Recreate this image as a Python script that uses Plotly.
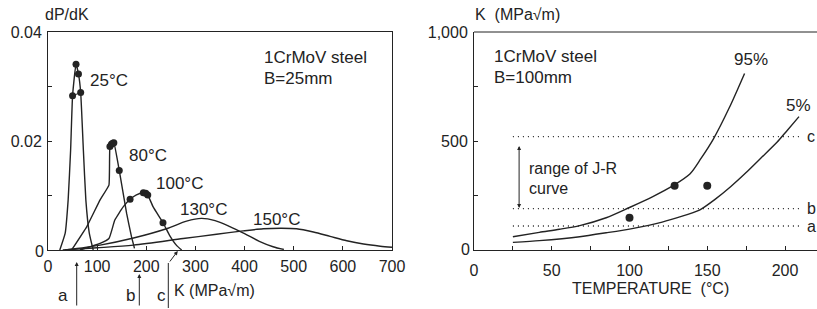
import plotly.graph_objects as go

W, H = 817, 309

# ---------------- Left panel data: dP/dK vs K ----------------
k25 = [24, 35, 41, 46, 50, 57, 62, 66.5, 72, 77, 84, 92]
p25 = [0, 0.0031, 0.0092, 0.0183, 0.0283, 0.0341, 0.0323, 0.0289, 0.0183, 0.0092, 0.0031, 0]
k25_pts = [50, 57, 62, 66.5]
p25_pts = [0.0283, 0.0341, 0.0323, 0.0289]

k80 = [48, 79, 106, 124, 126, 131, 134, 145, 160, 170, 176]
p80 = [0, 0.0043, 0.0092, 0.0119, 0.019, 0.0196, 0.0197, 0.0146, 0.0067, 0.0024, 0.0003]
k80_pts = [126, 129, 131.5, 134, 145]
p80_pts = [0.019, 0.0194, 0.0196, 0.0197, 0.0146]

k100 = [65, 106, 124, 136, 153, 167, 180, 194, 199, 203, 214, 234, 248, 262, 272]
p100 = [0, 0.0012, 0.0021, 0.0055, 0.0079, 0.0093, 0.0101, 0.0105, 0.0104, 0.0101, 0.0079, 0.005, 0.0026, 0.0008, 0]
k100_pts = [167, 194, 199, 203, 234]
p100_pts = [0.0093, 0.0105, 0.0104, 0.0101, 0.005]

k130 = [35, 106, 174, 241, 282, 312, 340, 370, 400, 430, 458, 480]
p130 = [0, 0.0009, 0.0022, 0.0039, 0.0053, 0.0058, 0.0054, 0.0043, 0.003, 0.0016, 0.0006, 0.0001]

k150 = [30, 100, 174, 275, 343, 397, 438, 475, 506, 540, 574, 608, 642, 676, 700]
p150 = [0, 0.0004, 0.0009, 0.0021, 0.0029, 0.0035, 0.0039, 0.004, 0.0039, 0.0033, 0.0025, 0.0017, 0.0011, 0.0007, 0.0005]

left_xticks = [0, 100, 200, 300, 400, 500, 600, 700]
left_yticks = [0.01, 0.02, 0.03, 0.04]
left_ylabels = ["", "0.02", "", "0.04"]

# ---------------- Right panel data: K vs temperature ----------------
t95 = [25, 42, 55, 68, 85, 100, 115, 128, 139, 146, 154, 164, 174]
k95 = [61, 81, 95, 112, 148, 195, 245, 295, 350, 420, 510, 650, 810]
t5 = [25, 42, 68, 85, 100, 121, 145, 155, 165, 175, 185, 195, 201, 209]
k5 = [35, 43, 61, 79, 96, 128, 183, 232, 290, 355, 425, 495, 545, 612]
t_pts = [100, 129, 150]
k_pts = [148, 295, 295]
ref_names = ["c", "b", "a"]
ref_vals = [520, 190, 110]
ref_t = [25, 210]

right_xticks = [0, 25, 50, 75, 100, 125, 150, 175, 200]
right_xlabels = ["0", "", "50", "", "100", "", "150", "", "200"]
right_yticks = [250, 500, 750, 1000]
right_ylabels = ["", "500", "", "1,000"]

INK = "#232323"
FONT = "Liberation Sans, Arial, Helvetica, sans-serif"

fig = go.Figure()

def line(x, y, xa="x", ya="y", w=1.4, smooth=None):
    ln = dict(color=INK, width=w)
    if smooth:
        ln.update(shape="spline", smoothing=smooth)
    fig.add_trace(go.Scatter(x=x, y=y, mode="lines", xaxis=xa, yaxis=ya,
                             line=ln, hoverinfo="skip", showlegend=False))

def dots(x, y, xa="x", ya="y", s=7):
    fig.add_trace(go.Scatter(x=x, y=y, mode="markers", xaxis=xa, yaxis=ya,
                             marker=dict(color=INK, size=s), hoverinfo="skip",
                             showlegend=False))

line(k25, p25, smooth=0.4)
line([k25_pts[0], k25_pts[-1]], [p25_pts[0], p25_pts[-1]], w=1.0)
dots(k25_pts, p25_pts)
line(k80, p80, smooth=0.3)
dots(k80_pts, p80_pts)
line(k100, p100, smooth=0.4)
dots(k100_pts, p100_pts)
line(k130, p130, smooth=0.8)
line(k150, p150, smooth=0.8)

line(t95, k95, "x2", "y2", smooth=0.8)
line(t5, k5, "x2", "y2", smooth=0.6)
dots(t_pts, k_pts, "x2", "y2", s=8)
for v in ref_vals:
    fig.add_trace(go.Scatter(x=ref_t, y=[v, v], mode="lines", xaxis="x2", yaxis="y2",
                             line=dict(color=INK, width=1.3, dash="1px,4px"),
                             hoverinfo="skip", showlegend=False))

def px(x):
    return x / W

def py(y):
    return 1 - y / H

ydom = [py(250), py(32)]
axis_common = dict(showgrid=False, zeroline=False, showline=True, linecolor=INK,
                   linewidth=1, ticks="inside", ticklen=4, tickcolor=INK, automargin=False,
                   tickfont=dict(family=FONT, size=16, color=INK))

fig.update_layout(
    width=W, height=H, margin=dict(l=0, r=0, t=0, b=0, autoexpand=False),
    paper_bgcolor="white", plot_bgcolor="white",
    font=dict(family=FONT, color=INK),
    xaxis=dict(domain=[px(48), px(392)], range=[0, 700], tickvals=left_xticks,
               mirror=True, anchor="y", ticklabelstandoff=2, **axis_common),
    yaxis=dict(domain=ydom, range=[0, 0.04], tickvals=left_yticks,
               ticktext=left_ylabels, mirror=True, anchor="x",
               ticklabelstandoff=2, **axis_common),
    xaxis2=dict(domain=[px(474), 1.0], range=[0, (817 - 474) / 1.555],
                tickvals=right_xticks, ticktext=right_xlabels,
                anchor="y2", ticklabelstandoff=6, **axis_common),
    yaxis2=dict(domain=ydom, range=[0, 1000], tickvals=right_yticks,
                ticktext=right_ylabels, anchor="x2",
                ticklabelstandoff=2, **axis_common),
)

fig.add_shape(type="line", xref="x2 domain", yref="y2 domain", x0=0, x1=1, y0=1, y1=1,
              line=dict(color=INK, width=1))

ann = []

def text(s, x, y, size=17, xanchor="left", xref="paper", yref="paper"):
    ann.append(dict(text=s, x=x, y=y, xref=xref, yref=yref, xanchor=xanchor,
                    yanchor="middle", showarrow=False,
                    font=dict(family=FONT, size=size, color=INK)))

# Axis titles / zero labels
text("dP/dK", px(43), py(15), 16)
text("0", px(46), py(251), 16, "right")
text("K  (MPa\u221am)", px(473), py(15), 16)
text("0", px(472), py(249), 16, "right")
text("TEMPERATURE  (\u00b0C)", px(650), py(288), 16, "center")
text("K (MPa\u221am)", px(172), py(290), 16)

# Left panel annotations
text("1CrMoV steel", px(262), py(57), 17)
text("B=25mm", px(262), py(78), 17)
text("25\u00b0C", px(88), py(80), 17)
text("80\u00b0C", px(127), py(155), 17)
text("100\u00b0C", px(154), py(183), 17)
text("130\u00b0C", px(178), py(209), 17)
text("150\u00b0C", px(251), py(219), 17)

# Right panel annotations
text("1CrMoV steel", px(492), py(56), 17)
text("B=100mm", px(492), py(77), 17)
text("95%", px(751), py(59), 17, "center")
text("5%", px(798), py(105), 17, "center")
text("range of J-R", px(527), py(168), 16)
text("curve", px(527), py(189), 16)
for name, v in zip(ref_names, ref_vals):
    ann.append(dict(text=name, x=px(805), y=v, xref="paper", yref="y2",
                    xanchor="left", yanchor="middle", showarrow=False,
                    font=dict(family=FONT, size=16, color=INK)))

# Range arrow (double headed)
ann.append(dict(x=29, y=477, ax=29, ay=186, xref="x2", yref="y2", axref="x2", ayref="y2",
                text="", showarrow=True, arrowhead=2, startarrowhead=2, arrowside="end+start",
                arrowsize=0.8, arrowwidth=1, arrowcolor=INK))

# Left panel arrows a, b, c below the axis
text("a", px(63), py(295), 17, "center")
text("b", px(130), py(295), 17, "center")
text("c", px(161), py(295), 17, "center")
ann.append(dict(x=58.4, y=py(262), xref="x", yref="paper", ax=0, ay=45, text="",
                showarrow=True, arrowhead=2, arrowsize=0.8, arrowwidth=1, arrowcolor=INK))
ann.append(dict(x=185.8, y=py(274), xref="x", yref="paper", ax=0, ay=33, text="",
                showarrow=True, arrowhead=2, arrowsize=0.8, arrowwidth=1, arrowcolor=INK))
fig.add_shape(type="line", xref="x", yref="paper", x0=244.8, x1=244.8, y0=py(308), y1=py(263),
              line=dict(color=INK, width=1))
ann.append(dict(x=264, y=py(251), xref="x", yref="paper", ax=-9, ay=12, text="",
                showarrow=True, arrowhead=2, arrowsize=0.8, arrowwidth=1, arrowcolor=INK))

fig.update_layout(annotations=ann)
fig.write_html("out.html", config={"displayModeBar": False},
               post_script="document.body.style.margin='0';")
